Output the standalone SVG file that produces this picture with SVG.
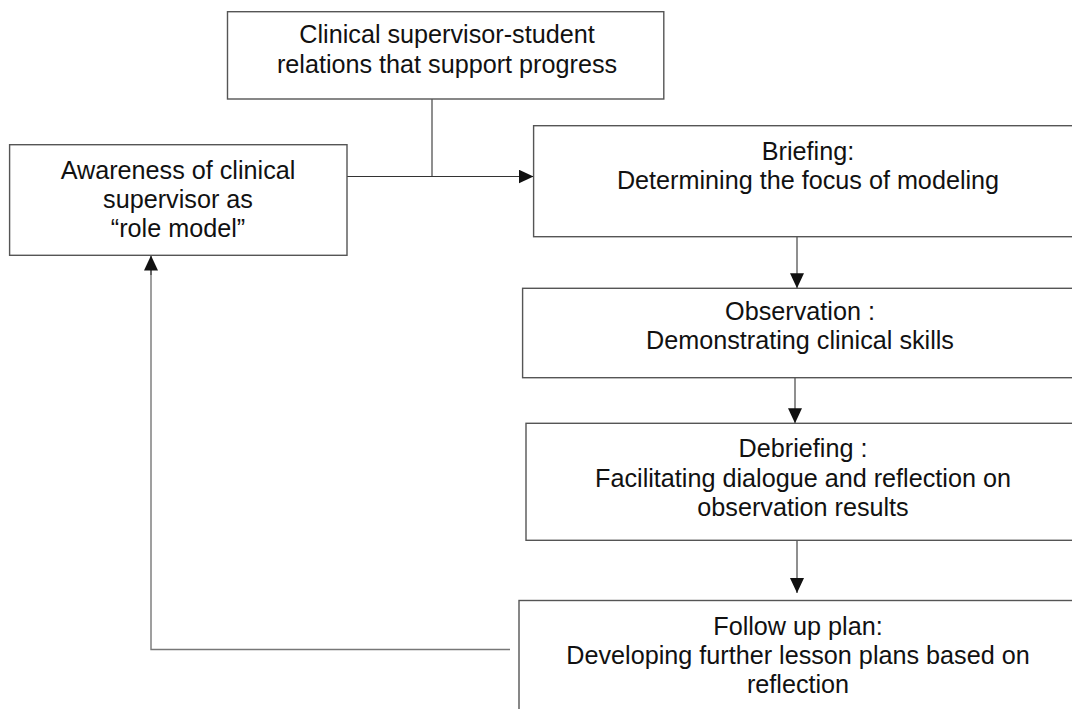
<svg xmlns="http://www.w3.org/2000/svg" width="1072" height="709" viewBox="0 0 1072 709">
<style>
.box{fill:#fff;stroke:#555;stroke-width:1.4}
.t{font-family:"Liberation Sans",Arial,sans-serif;font-size:25.2px;fill:#111;text-anchor:middle}
.c{fill:none;stroke:#333;stroke-width:1.1}
.loop{fill:none;stroke:#777;stroke-width:1.4}
</style>
<defs>
<marker id="ah" markerUnits="userSpaceOnUse" markerWidth="16" markerHeight="14" refX="15" refY="7" orient="auto">
<path d="M0,0 L15,7 L0,14 Z" fill="#111"/>
</marker>
</defs>
<rect width="1072" height="709" fill="#fff"/>
<g id="connectors">
<line class="c" x1="432" y1="99" x2="432" y2="176.5"/>
<line class="c" x1="347" y1="176.5" x2="533.5" y2="176.5" marker-end="url(#ah)"/>
<line class="c" x1="797" y1="236.7" x2="797" y2="288.3" marker-end="url(#ah)"/>
<line class="c" x1="795" y1="377.7" x2="795" y2="423.3" marker-end="url(#ah)"/>
<line class="c" x1="797" y1="540.3" x2="797" y2="593" marker-end="url(#ah)"/>
<polyline class="loop" points="510,649.5 151,649.5 151,270"/>
<line class="c" x1="151" y1="275" x2="151" y2="255.5" marker-end="url(#ah)"/>
</g>
<g id="relations">
<rect class="box" x="227.5" y="11.7" width="436.3" height="87.3"/>
<text class="t" x="447" y="43.3">Clinical supervisor-student</text>
<text class="t" x="447" y="73.3">relations that support progress</text>
</g>
<g id="awareness">
<rect class="box" x="9.6" y="144.7" width="337.4" height="110.6"/>
<text class="t" x="178" y="179">Awareness of clinical</text>
<text class="t" x="178" y="208">supervisor as</text>
<text class="t" x="178" y="237">“role model”</text>
</g>
<g id="briefing">
<rect class="box" x="533.6" y="125.7" width="560" height="111"/>
<text class="t" x="808" y="160">Briefing:</text>
<text class="t" x="808" y="189.3">Determining the focus of modeling</text>
</g>
<g id="observation">
<rect class="box" x="522.6" y="288.3" width="570" height="89.4"/>
<text class="t" x="800" y="320">Observation :</text>
<text class="t" x="800" y="349.3">Demonstrating clinical skills</text>
</g>
<g id="debriefing">
<rect class="box" x="526" y="423.3" width="570" height="117"/>
<text class="t" x="803" y="457.3">Debriefing :</text>
<text class="t" x="803" y="487.3">Facilitating dialogue and reflection on</text>
<text class="t" x="803" y="516">observation results</text>
</g>
<g id="followup">
<rect class="box" x="519" y="600.5" width="580" height="150"/>
<text class="t" x="798" y="635">Follow up plan:</text>
<text class="t" x="798" y="664.3">Developing further lesson plans based on</text>
<text class="t" x="798" y="693.3">reflection</text>
</g>
</svg>
